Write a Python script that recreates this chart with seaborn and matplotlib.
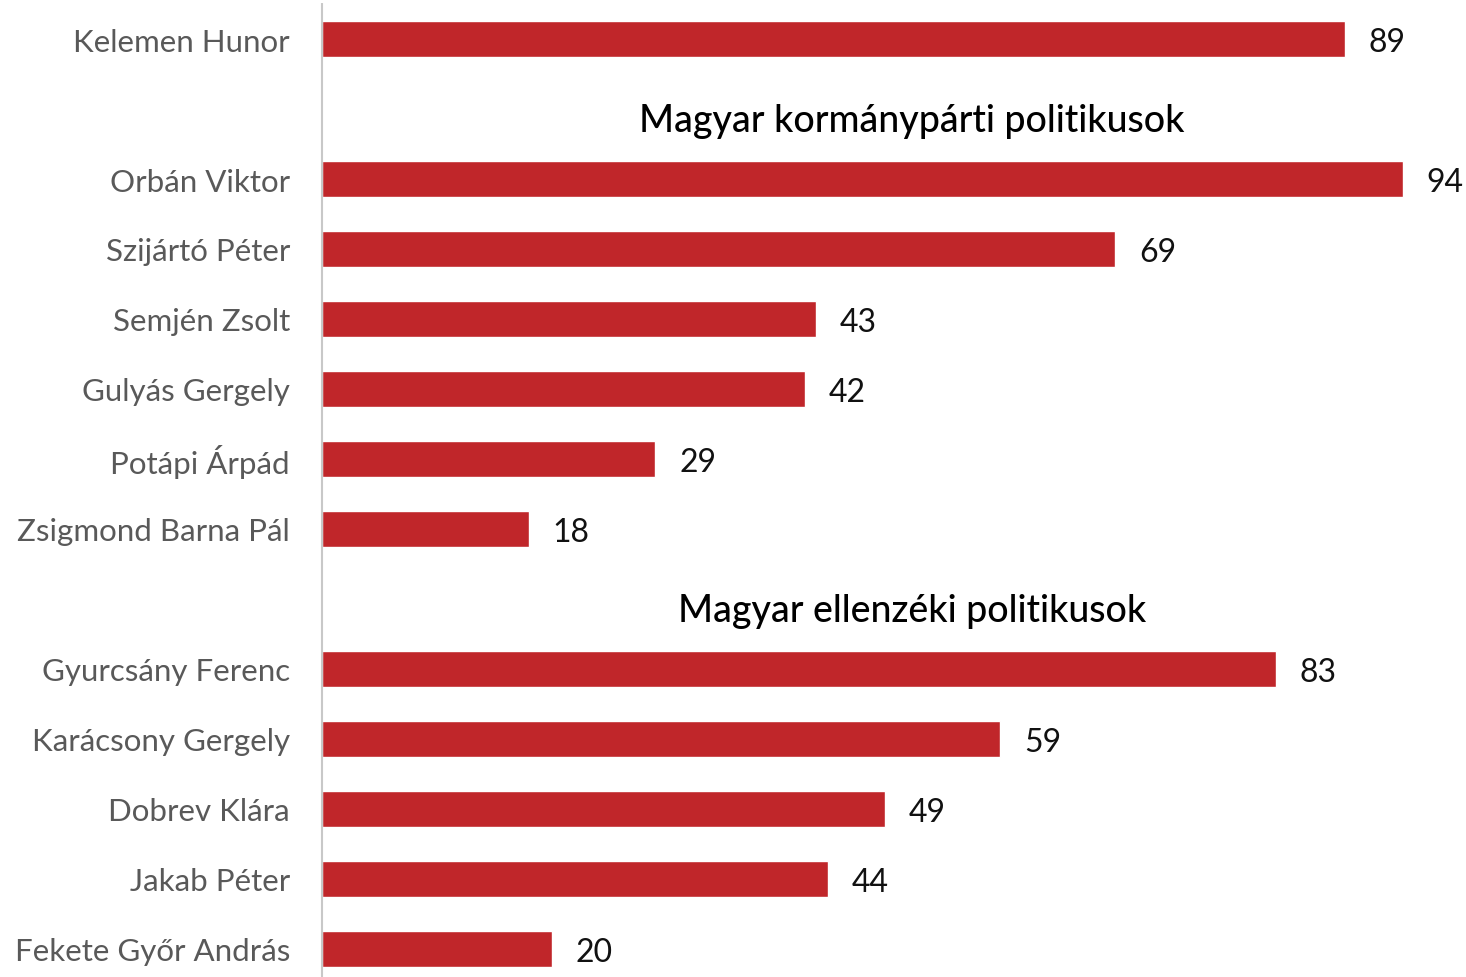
import pandas as pd
import seaborn as sns
import matplotlib.pyplot as plt

# slots in top-to-bottom order; heading slots have no value
names = ['Kelemen Hunor', 'h1',
         'Orbán Viktor', 'Szijártó Péter', 'Semjén Zsolt', 'Gulyás Gergely',
         'Potápi Árpád', 'Zsigmond Barna Pál', 'h2',
         'Gyurcsány Ferenc', 'Karácsony Gergely', 'Dobrev Klára',
         'Jakab Péter', 'Fekete Győr András']
values = [89, None, 94, 69, 43, 42, 29, 18, None, 83, 59, 49, 44, 20]
headings = {'h1': 'Magyar kormánypárti politikusok',
            'h2': 'Magyar ellenzéki politikusok'}

BAR_COLOR = '#C0262A'
LABEL_COLOR = '#595959'

sns.set_style('white')
plt.rcParams['font.family'] = ['Lato', 'DejaVu Sans']

df = pd.DataFrame({'name': names, 'value': values})

fig = plt.figure(figsize=(14.66, 9.78), dpi=100)
ax = fig.add_axes([322 / 1466, 0, 1 - 322 / 1466, 973 / 978])

sns.barplot(data=df, y='name', x='value', order=names, orient='h',
            color=BAR_COLOR, width=0.515, saturation=1, ax=ax)

for c in ax.containers:
    labels = ax.bar_label(c, fmt='%d', padding=17, fontsize=23, color='#111111')
    for t in labels:
        t.set_va('center_baseline')

ax.set_xlim(0, 99.5)
ax.set_ylim(13.4, -0.5)
ax.set_xlabel('')
ax.set_ylabel('')
ax.set_xticks([])

tick_labels = ['' if n in headings else n for n in names]
ax.set_yticks(range(len(names)))
ax.set_yticklabels(tick_labels, fontsize=22.5, color=LABEL_COLOR)
ax.tick_params(axis='y', length=0, pad=23)

for i, n in enumerate(names):
    if n in headings:
        ax.text(51.3, i + 0.17, headings[n], ha='center', va='center',
                fontsize=27, color='black', fontweight='medium')

for side in ['top', 'right', 'bottom']:
    ax.spines[side].set_visible(False)
ax.spines['left'].set_color('#C8C8C8')
ax.spines['left'].set_linestyle((0, (2, 1)))
ax.spines['left'].set_linewidth(1.5)

fig.savefig('out.png', dpi=100)
